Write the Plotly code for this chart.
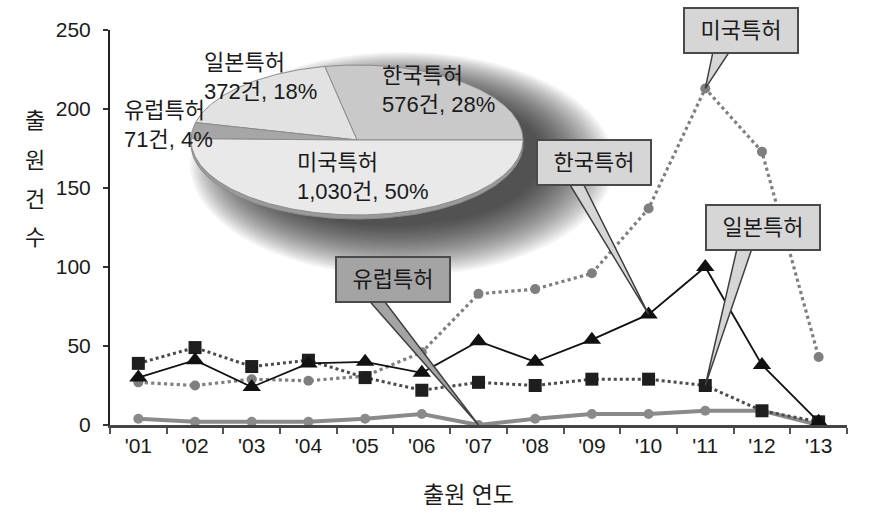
import plotly.graph_objects as go
import numpy as np

# ---------------- data ----------------
years = ["'01", "'02", "'03", "'04", "'05", "'06", "'07", "'08", "'09", "'10", "'11", "'12", "'13"]
us_vals = [27, 25, 29, 28, 31, 46, 83, 86, 96, 137, 213, 173, 43]
korea_vals = [30, 41, 24, 39, 40, 33, 53, 40, 54, 70, 100, 38, 2]
japan_vals = [39, 49, 37, 41, 30, 22, 27, 25, 29, 29, 25, 9, 2]
europe_vals = [4, 2, 2, 2, 4, 7, 0, 4, 7, 7, 9, 9, 0]

pie_names = ["한국특허", "일본특허", "유럽특허", "미국특허"]
pie_counts = [576, 372, 71, 1030]
pie_pcts = [28, 18, 4, 50]

y_ticks = [0, 50, 100, 150, 200, 250]

# ---------------- style ----------------
FONT = "Liberation Sans, Noto Sans CJK KR, sans-serif"
TXT = "#1a1a1a"
L, R, T, B = 110, 32, 30, 92
W, H = 879, 517
px_x = [L, W - R]          # pixel frame used by the overlay axes
px_y = [H - B, T]


def paper(xp, yp):
    return (xp - L) / (W - L - R), (H - B - yp) / (H - B - T)


fig = go.Figure()

# ---------------- line series ----------------
fig.add_trace(go.Scatter(x=years, y=us_vals, mode="lines+markers", name="미국특허",
                         line=dict(color="#7f7f7f", width=3.2, dash="dot"),
                         marker=dict(symbol="circle", size=10, color="#7f7f7f")))
fig.add_trace(go.Scatter(x=years, y=europe_vals, mode="lines+markers", name="유럽특허",
                         line=dict(color="#8a8a8a", width=4),
                         marker=dict(symbol="circle", size=10, color="#8a8a8a")))
fig.add_trace(go.Scatter(x=years, y=japan_vals, mode="lines+markers", name="일본특허",
                         line=dict(color="#4a4a4a", width=3, dash="dot"),
                         marker=dict(symbol="square", size=13, color="#1e1e1e")))
fig.add_trace(go.Scatter(x=years, y=korea_vals, mode="lines+markers", name="한국특허",
                         line=dict(color="#111111", width=1.8),
                         marker=dict(symbol="triangle-up", size=16, color="#111111")))

# ---------------- inset elliptical pie (overlay axes in pixel units) ----------------
cx, cy, rx, ry = 357, 140, 166, 75
pie_colors = ["#c9c9c9", "#e2e2e2", "#a6a6a6", "#e9e9e9"]
total = sum(pie_counts)

# side / rim of the 3D pie
t = np.linspace(0, 2 * np.pi, 200)
fig.add_trace(go.Scatter(x=cx + rx * np.cos(t), y=cy + 4 - ry * np.sin(t), xaxis="x2", yaxis="y2",
                         mode="lines", fill="toself", fillcolor="#9a9a9a",
                         line=dict(color="#8a8a8a", width=1), hoverinfo="skip", showlegend=False))
start = 0.0
for name, cnt, col in zip(pie_names, pie_counts, pie_colors):
    a0 = start
    a1 = start + cnt / total * 2 * np.pi
    tt = np.linspace(a0, a1, max(4, int((a1 - a0) * 60)))
    xs = np.concatenate([[cx], cx + rx * np.cos(tt), [cx]])
    ys = np.concatenate([[cy], cy - ry * np.sin(tt), [cy]])
    fig.add_trace(go.Scatter(x=xs, y=ys, xaxis="x2", yaxis="y2", mode="lines", fill="toself",
                             fillcolor=col, line=dict(color="#8c8c8c", width=1),
                             name=name, hoverinfo="skip", showlegend=False))
    start = a1

# soft shadow behind the pie (offset to the lower right)
shapes = []
n_sh = 24
for k in range(n_sh):
    f = k / (n_sh - 1)
    srx = 150 + 62 * f
    sry = 68 + 44 * f
    scx = 394 + 8 * f
    scy = 158 + 6 * f
    shapes.append(dict(type="circle", xref="x2", yref="y2", layer="below",
                       x0=scx - srx, x1=scx + srx, y0=scy - sry, y1=scy + sry,
                       fillcolor="rgba(0,0,0,0.045)", line=dict(width=0)))

# pie labels
pie_label_pos = [(380, 90), (202, 77), (122, 125), (295, 177)]
annotations = []
for name, cnt, pct, (lx, ly) in zip(pie_names, pie_counts, pie_pcts, pie_label_pos):
    annotations.append(dict(xref="x2", yref="y2", x=lx, y=ly, xanchor="left", yanchor="middle",
                            align="left", showarrow=False,
                            text=f"{name}<br>{cnt:,}건, {pct}%",
                            font=dict(family=FONT, size=22, color=TXT)))

# ---------------- callouts ----------------
callouts = [
    # name, series, index, ax, ay, box fill, wedge base (x0, x1, up)
    ("미국특허", us_vals, 10, 36, -58, "#d6d6d6", (8, 25, 38)),
    ("한국특허", korea_vals, 9, -55, -152, "#d6d6d6", (-80, -66, 132)),
    ("일본특허", japan_vals, 10, 58, -158, "#d6d6d6", (32, 47, 138)),
    ("유럽특허", europe_vals, 6, -86, -146, "#a4a4a4", (-110, -95, 125)),
]
for name, ser, idx, ax, ay, fill, (bx0, bx1, up) in callouts:
    shapes.append(dict(type="path", xref="x", yref="y", xsizemode="pixel", ysizemode="pixel",
                       xanchor=idx, yanchor=ser[idx], layer="above",
                       path=f"M0,0 L{bx0},{up} L{bx1},{up} Z",
                       fillcolor=fill, line=dict(color="#404040", width=1.5)))
    annotations.append(dict(x=idx, y=ser[idx], xref="x", yref="y", text=name,
                            showarrow=True, ax=ax, ay=ay, arrowcolor="rgba(0,0,0,0)",
                            bgcolor=fill, bordercolor="#4a4a4a", borderwidth=2, borderpad=3,
                            width=106, height=37,
                            font=dict(family=FONT, size=22, color=TXT)))

# ---------------- axis titles ----------------
for ch, yy in zip("출원건수", [120, 160, 200, 238]):
    px_, py_ = paper(35, yy)
    annotations.append(dict(xref="paper", yref="paper", x=px_, y=py_, text=ch, showarrow=False,
                            xanchor="center", yanchor="middle",
                            font=dict(family=FONT, size=22, color=TXT)))
px_, py_ = paper(468, 495)
annotations.append(dict(xref="paper", yref="paper", x=px_, y=py_, text="출원 연도", showarrow=False,
                        xanchor="center", yanchor="middle",
                        font=dict(family=FONT, size=23, color=TXT)))

fig.update_layout(
    width=W, height=H, margin=dict(l=L, r=R, t=T, b=B),
    paper_bgcolor="white", plot_bgcolor="white", showlegend=False,
    font=dict(family=FONT, size=21, color=TXT),
    xaxis=dict(type="category", range=[-0.5, 12.5], tickson="boundaries", ticks="outside",
               ticklen=6, tickwidth=1.5, tickcolor="#555", showline=True, linecolor="#444",
               linewidth=3, showgrid=False, zeroline=False,
               tickfont=dict(family=FONT, size=21, color=TXT)),
    yaxis=dict(range=[0, 250], tickvals=y_ticks, ticks="outside", ticklen=5, tickwidth=1.5,
               tickcolor="#333", showline=True, linecolor="#222", linewidth=2,
               showgrid=False, zeroline=False, ticklabelstandoff=8,
               tickfont=dict(family=FONT, size=21, color=TXT)),
    xaxis2=dict(overlaying="x", range=px_x, visible=False, fixedrange=True),
    yaxis2=dict(overlaying="y", range=px_y, visible=False, fixedrange=True),
    shapes=shapes, annotations=annotations,
)

fig.write_html("out.html")
